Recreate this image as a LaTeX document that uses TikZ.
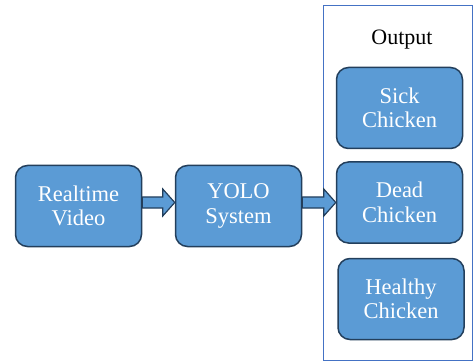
\documentclass[tikz,border=0pt]{standalone}
\usepackage{fontspec}
\setmainfont{Liberation Serif}
\usetikzlibrary{calc}
\definecolor{boxfill}{HTML}{5B9BD5}
\definecolor{boxline}{HTML}{233F5C}
\definecolor{frameline}{HTML}{4472C4}
\tikzset{stage/.style={draw=boxline, line width=1.5pt, fill=boxfill, rounded corners=12pt,
    text=white, align=center, minimum width=126pt, minimum height=81pt,
    font=\fontsize{22.5}{24.5}\selectfont},
    fatarrow/.style={draw=boxline, line width=1.2pt, fill=boxfill,
    to path={let \p1=(\tikztostart), \p2=(\tikztotarget) in
      (\x1,\y2+5.5pt) -- (\x2-12pt,\y2+5.5pt) -- (\x2-12pt,\y2+13.5pt) -- (\x2,\y2)
      -- (\x2-12pt,\y2-13.5pt) -- (\x2-12pt,\y2-5.5pt) -- (\x1,\y2-5.5pt) -- cycle}},
    }

\begin{document}
\begin{tikzpicture}[x=1pt,y=1pt]
\useasboundingbox (0,0) rectangle (474,362);
% output frame
\draw[frameline, line width=1pt] (323,2) rectangle (472,356);
\node (outtitle) at (402,322) {\fontsize{22}{24}\selectfont Output};
% stages
\node[stage] (video) at (78.5,156) {Realtime\\Video};
\node[stage] (yolo) at (238.5,156) {YOLO\\System};
\node[stage] (sick) at (399.5,254) {Sick\\Chicken};
\node[stage] (dead) at (399.5,159.5) {Dead\\Chicken};
\node[stage] (healthy) at (401,63) {Healthy\\Chicken};
% arrows
\draw[fatarrow] (video.east) to ($(yolo.west)+(0,3.5)$);
\draw[fatarrow] (yolo.east) to (dead.west);
\end{tikzpicture}
\end{document}
